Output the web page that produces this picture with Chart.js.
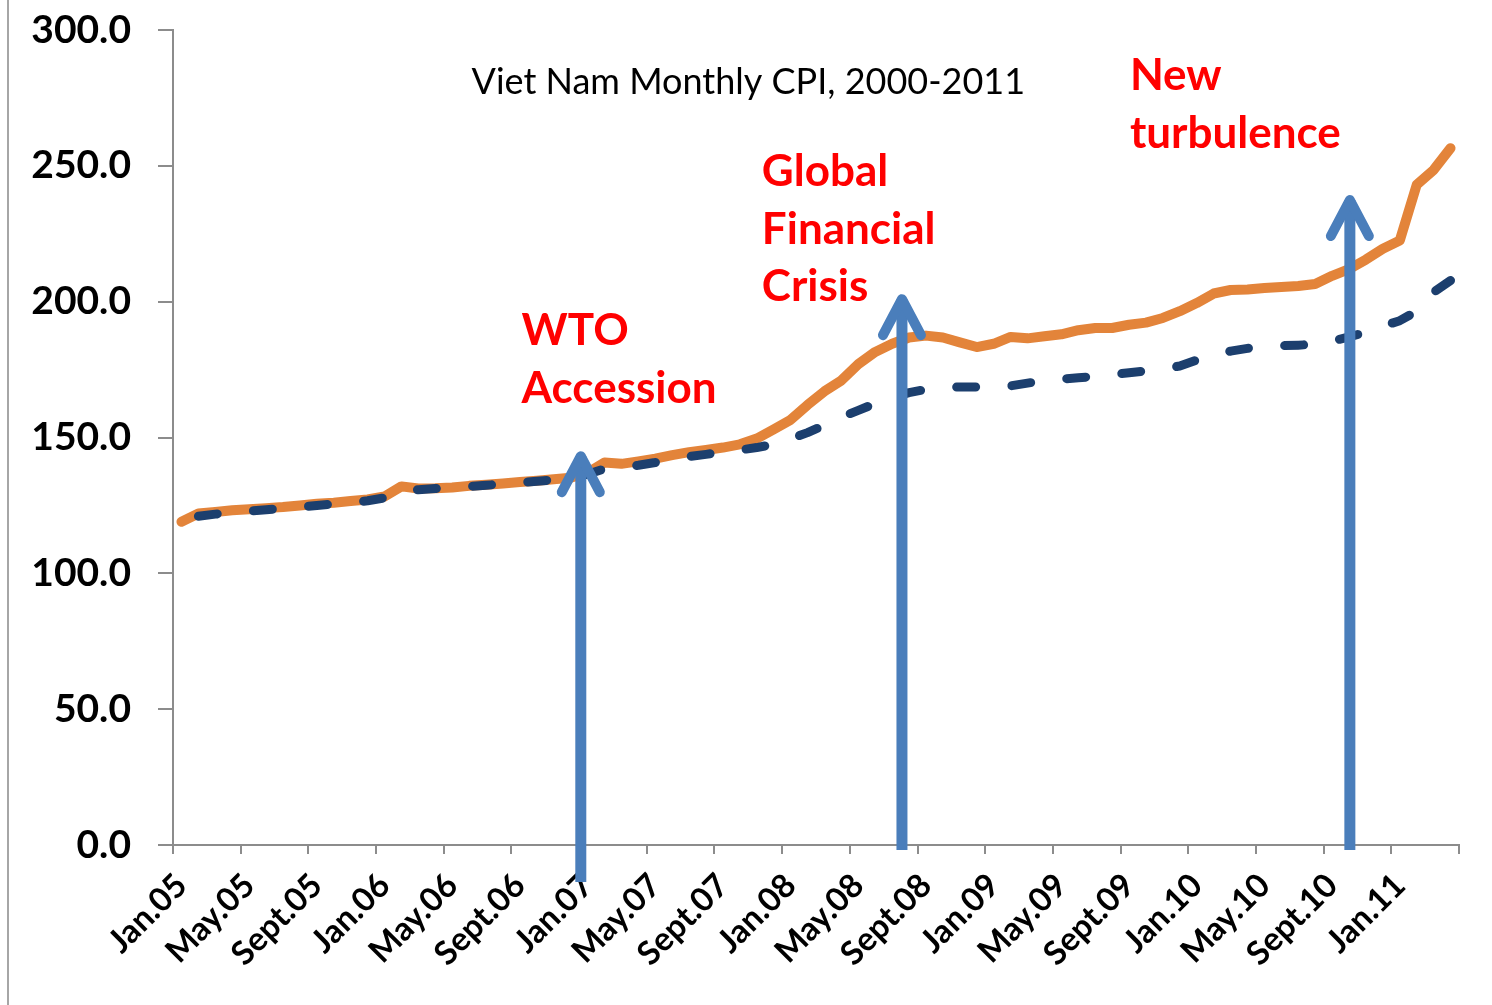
<!DOCTYPE html>
<html>
<head>
<meta charset="utf-8">
<title>Viet Nam Monthly CPI</title>
<script src="https://cdn.jsdelivr.net/npm/chart.js@4.4.0/dist/chart.umd.min.js"></script>
<style>
  html, body { margin: 0; padding: 0; background: #fff; }
  #wrap { width: 1492px; height: 1005px; position: relative; }
</style>
</head>
<body>
<div id="wrap"><canvas id="cpiChart" width="1492" height="1005"></canvas></div>
<script>
// Meses (Jan.05 - Apr.11)
const monthNames = ['Jan', 'Feb', 'Mar', 'Apr', 'May', 'June', 'July', 'Aug', 'Sept', 'Oct', 'Nov', 'Dec'];
const yearSuffixes = ['05', '06', '07', '08', '09', '10', '11'];
const months = [];
yearSuffixes.forEach(yy => monthNames.forEach(m => months.push(m + '.' + yy)));
months.length = 76;

// CPI mensual (línea naranja)
const cpiActual = [
  119.0, 122.0, 122.6, 123.2, 123.6, 124.0, 124.4, 125.0, 125.6, 126.0, 126.6, 127.2,
  128.3, 132.0, 131.2, 131.3, 131.6, 132.2, 132.6, 133.1, 133.6, 134.1, 134.6, 135.2,
  137.0, 140.8, 140.3, 141.2, 142.2, 143.5, 144.6, 145.4, 146.3, 147.5, 149.6, 153.0,
  156.5, 162.0, 167.0, 171.0, 177.0, 181.5, 184.5, 186.8, 187.5, 186.8, 185.0, 183.3,
  184.5, 187.0, 186.5, 187.3, 188.0, 189.5, 190.3, 190.3, 191.5, 192.3, 194.0, 196.5,
  199.5, 203.0, 204.3, 204.5, 205.0, 205.4, 205.8, 206.5, 209.5, 212.0, 215.5, 219.5,
  222.5, 243.0, 248.5, 256.5
];

// Serie punteada (línea azul)
const cpiTrend = [
  null, 121.0, 121.8, 122.4, 122.9, 123.4, 123.9, 124.4, 125.0, 125.5, 126.0, 126.7,
  127.8, 130.0, 130.8, 131.2, 131.5, 132.0, 132.4, 132.9, 133.4, 133.9, 134.4, 135.0,
  136.5, 138.5, 139.0, 139.8, 140.8, 142.0, 143.0, 143.8, 144.6, 145.4, 146.3, 147.5,
  149.5, 151.8, 154.5, 157.5, 160.0, 162.5, 164.8, 166.5, 167.7, 168.5, 168.6, 168.6,
  168.7, 169.0, 170.0, 171.0, 171.5, 172.0, 172.5, 173.2, 173.8, 174.5, 175.3, 176.3,
  178.5, 180.0, 181.8, 182.8, 183.5, 183.8, 184.0, 184.3, 185.5, 187.0, 188.8, 191.0,
  193.0, 196.5, 203.5, 207.8
];

// Anotaciones (posición en índice de mes y valor del eje Y)
const noteTexts = [['WTO', 'Accession'], ['Global', 'Financial', 'Crisis'], ['New', 'turbulence']];
const noteMonths = [20.1, 34.3, 56.05];
const noteValues = [189.2, 247.7, 283.0];

// Flechas: mes, valor inicial, valor de la punta
const arrowMonths = [23.6, 42.58, 69.05];
const arrowFrom = [-13.6, -1.8, -1.8];
const arrowTo = [144.6, 202.4, 238.9];

const chartTitle = 'Viet Nam Monthly CPI, 2000-2011';
const titleMonth = 33.5;
const titleValue = 280.8;

const FONT = 'Lato, "Open Sans", sans-serif';

// Plugin para título, textos rojos y flechas
const notesPlugin = {
  id: 'cpiNotes',
  afterDatasetsDraw(chart) {
    const { ctx, scales: { x, y } } = chart;
    ctx.save();

    // borde gris de la diapositiva
    ctx.strokeStyle = '#a6a6a6';
    ctx.lineWidth = 2;
    ctx.beginPath();
    ctx.moveTo(8, 0);
    ctx.lineTo(8, chart.height);
    ctx.stroke();

    // título
    ctx.fillStyle = '#000';
    ctx.font = '36px ' + FONT;
    ctx.textAlign = 'center';
    ctx.textBaseline = 'middle';
    ctx.fillText(chartTitle, x.getPixelForValue(titleMonth), y.getPixelForValue(titleValue));

    // flechas
    ctx.strokeStyle = '#4a7ebb';
    ctx.lineJoin = 'round';
    arrowMonths.forEach((m, i) => {
      const px = x.getPixelForValue(m);
      const y0 = y.getPixelForValue(arrowFrom[i]);
      const y1 = y.getPixelForValue(arrowTo[i]);
      ctx.lineWidth = 11;
      ctx.lineCap = 'butt';
      ctx.beginPath();
      ctx.moveTo(px, y0);
      ctx.lineTo(px, y1 + 4);
      ctx.stroke();
      ctx.lineCap = 'round';
      ctx.lineWidth = 10;
      ctx.beginPath();
      ctx.moveTo(px - 19, y1 + 40);
      ctx.lineTo(px, y1 + 4);
      ctx.lineTo(px + 19, y1 + 40);
      ctx.stroke();
    });

    // textos rojos
    ctx.fillStyle = '#ff0000';
    ctx.font = 'bold 44px ' + FONT;
    ctx.textAlign = 'left';
    noteTexts.forEach((lines, i) => {
      const px = x.getPixelForValue(noteMonths[i]);
      const py = y.getPixelForValue(noteValues[i]);
      lines.forEach((t, j) => ctx.fillText(t, px, py + j * 57.5));
    });

    ctx.restore();
  }
};

const cpiChart = new Chart(document.getElementById('cpiChart').getContext('2d'), {
  type: 'line',
  data: {
    labels: months,
    datasets: [{
      label: 'Trend',
      data: cpiTrend,
      borderColor: '#1c3f6e',
      borderWidth: 9,
      borderDash: [19, 36.3],
      borderCapStyle: 'round',
      borderJoinStyle: 'round',
      pointRadius: 0,
      tension: 0,
      order: 0
    }, {
      label: 'CPI',
      data: cpiActual,
      borderColor: '#e3843a',
      borderWidth: 10,
      borderCapStyle: 'round',
      borderJoinStyle: 'round',
      pointRadius: 0,
      tension: 0,
      order: 1
    }]
  },
  options: {
    responsive: false,
    animation: false,
    devicePixelRatio: 1,
    layout: { padding: { top: 30, right: 33, left: 0, bottom: 0 } },
    plugins: {
      legend: { display: false },
      tooltip: { enabled: false }
    },
    scales: {
      x: {
        type: 'category',
        offset: true,
        grid: {
          offset: true,
          drawOnChartArea: false,
          tickLength: 9,
          lineWidth: 2,
          color: ctx => (ctx.index === undefined || ctx.index % 4 === 0) ? '#8c8c8c' : 'rgba(0,0,0,0)'
        },
        border: { color: '#8c8c8c', width: 2 },
        ticks: {
          autoSkip: false,
          minRotation: 45,
          maxRotation: 45,
          padding: 12,
          color: '#000',
          font: { family: FONT, size: 33, weight: 'bold' },
          callback: function(value, index) {
            return index % 4 === 0 ? this.getLabelForValue(value) : '';
          }
        },
        afterFit(scale) { scale.height = 160; }
      },
      y: {
        min: 0,
        max: 300,
        grid: {
          drawOnChartArea: false,
          tickLength: 15,
          lineWidth: 2,
          color: '#8c8c8c'
        },
        border: { color: '#8c8c8c', width: 2 },
        ticks: {
          stepSize: 50,
          padding: 27,
          color: '#000',
          font: { family: FONT, size: 39, weight: 'bold' },
          callback: value => value.toFixed(1)
        },
        afterFit(scale) {
          scale.width = 173;
          scale.paddingTop = 0;
          scale.paddingBottom = 0;
        }
      }
    }
  },
  plugins: [notesPlugin]
});
</script>
</body>
</html>
